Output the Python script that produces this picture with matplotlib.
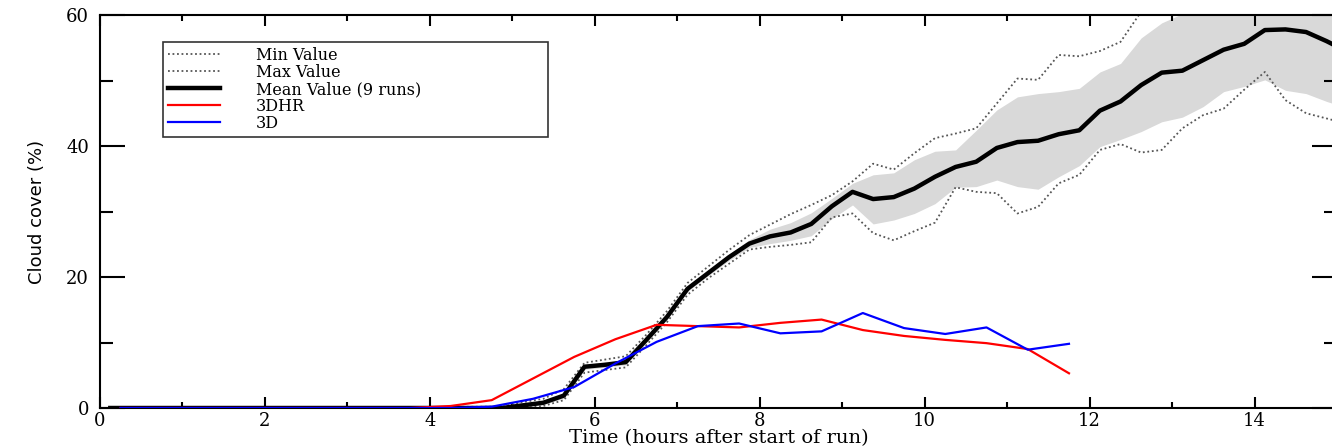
import matplotlib
matplotlib.use('Agg')
import matplotlib.pyplot as plt
from matplotlib.ticker import MultipleLocator

# ensemble statistics (9 runs), every 15 min
t_ens = [0.125, 4.875, 5.125, 5.375, 5.625, 5.875, 6.125, 6.375, 6.625, 6.875,
         7.125, 7.375, 7.625, 7.875, 8.125, 8.375, 8.625, 8.875, 9.125, 9.375,
         9.625, 9.875, 10.125, 10.375, 10.625, 10.875, 11.125, 11.375, 11.625, 11.875,
         12.125, 12.375, 12.625, 12.875, 13.125, 13.375, 13.625, 13.875, 14.125, 14.375,
         14.625, 14.875, 15.0]
mean_v = [0, 0, 0.4, 0.8, 1.9, 6.3, 6.6, 7.0, 10.4, 13.9,
          18.2, 20.6, 23.0, 25.1, 26.2, 26.8, 28.1, 30.8, 33.0, 31.9,
          32.2, 33.5, 35.3, 36.8, 37.6, 39.7, 40.6, 40.8, 41.8, 42.4,
          45.4, 46.8, 49.3, 51.2, 51.5, 53.1, 54.7, 55.6, 57.7, 57.8,
          57.4, 56.0, 55.2]
band_lo = [0, 0, 0.2, 0.5, 1.5, 5.9, 6.2, 6.6, 10.0, 13.5,
           17.8, 20.2, 22.5, 24.5, 25.1, 25.6, 26.3, 28.9, 31.0, 28.1,
           28.7, 29.7, 31.2, 33.7, 33.8, 34.8, 33.8, 33.4, 35.3, 37.0,
           39.9, 41.0, 42.2, 43.7, 44.4, 46.0, 48.3, 49.1, 50.1, 48.5,
           48.0, 46.8, 46.3]
band_hi = [0, 0.1, 0.6, 1.1, 2.3, 6.7, 7.0, 7.4, 10.8, 14.3,
           18.6, 21.0, 23.5, 25.7, 27.3, 28.3, 29.8, 32.0, 34.3, 35.6,
           35.9, 37.9, 39.2, 39.4, 42.4, 45.5, 47.5, 48.0, 48.3, 48.8,
           51.3, 52.6, 56.5, 58.8, 60.2, 61.5, 62.5, 63.5, 64.5, 64.0,
           63.5, 63.0, 62.8]
min_v = [0, 0, 0.0, 0.3, 1.2, 5.4, 5.8, 6.2, 9.6, 13.1,
         17.3, 19.8, 22.0, 24.2, 24.6, 24.9, 25.3, 29.1, 29.7, 26.7,
         25.6, 27.0, 28.3, 33.7, 33.0, 32.8, 29.7, 30.7, 34.3, 35.6,
         39.4, 40.3, 39.0, 39.4, 42.7, 44.7, 45.7, 48.6, 51.3, 47.0,
         45.0, 44.2, 43.8]
max_v = [0, 0.2, 0.9, 1.4, 2.9, 6.9, 7.4, 7.9, 11.2, 14.8,
         19.1, 21.6, 24.1, 26.4, 28.0, 29.6, 31.0, 32.5, 34.6, 37.3,
         36.4, 38.9, 41.2, 41.9, 42.7, 46.5, 50.3, 50.1, 53.9, 53.7,
         54.5, 55.9, 60.5, 62.5, 64.0, 65.0, 66.0, 67.0, 68.0, 68.5,
         68.5, 68.0, 67.8]

# single runs, every 30 min
t_run = [0.25, 0.75, 1.25, 1.75, 2.25, 2.75, 3.25, 3.75, 4.25, 4.75, 5.25, 5.75,
         6.25, 6.75, 7.25, 7.75, 8.25, 8.75, 9.25, 9.75, 10.25, 10.75, 11.25, 11.75]
hr_3d = [0, 0, 0, 0, 0, 0, 0, 0, 0.3, 1.2, 4.5, 7.8,
         10.5, 12.7, 12.5, 12.3, 13.0, 13.5, 11.9, 11.0, 10.4, 9.9, 9.0, 5.3]
run_3d = [0, 0, 0, 0, 0, 0, 0, 0, 0, 0.2, 1.4, 3.2,
          6.8, 10.1, 12.5, 12.9, 11.4, 11.7, 14.5, 12.2, 11.3, 12.3, 8.9, 9.8]

plt.rcParams['font.family'] = 'DejaVu Serif'

fig = plt.figure(figsize=(13.32, 4.47), dpi=100)
ax = fig.add_axes([100 / 1332, 39 / 447, 1237 / 1332, 393 / 447])

ax.fill_between(t_ens, band_lo, band_hi, color='#d9d9d9', lw=0, zorder=1)
ax.plot(t_ens, min_v, color='#555555', lw=1.3, ls=(0, (1, 1.5)), label='Min Value', zorder=2)
ax.plot(t_ens, max_v, color='#555555', lw=1.3, ls=(0, (1, 1.5)), label='Max Value', zorder=2)
ax.plot(t_ens, mean_v, color='black', lw=3.2, label='Mean Value (9 runs)', zorder=3)
ax.plot(t_run, hr_3d, color='#ff0000', lw=1.6, label='3DHR', zorder=4)
ax.plot(t_run, run_3d, color='#0000ff', lw=1.6, label='3D', zorder=5)

ax.set_xlim(0, 15)
ax.set_ylim(0, 60)
ax.xaxis.set_major_locator(MultipleLocator(2))
ax.xaxis.set_minor_locator(MultipleLocator(1))
ax.yaxis.set_major_locator(MultipleLocator(20))
ax.yaxis.set_minor_locator(MultipleLocator(10))
ax.tick_params(which='both', direction='in', top=True, right=True, width=1.5, labelsize=13)
ax.tick_params(axis='x', which='major', length=8, pad=3)
ax.tick_params(axis='x', which='minor', length=4.5)
ax.tick_params(axis='y', which='major', length=18, pad=8)
ax.tick_params(axis='y', which='minor', length=9.5)
for s in ax.spines.values():
    s.set_linewidth(1.5)

ax.set_xlabel('Time (hours after start of run)', fontsize=14, labelpad=-1)
ax.set_ylabel('Cloud cover (%)', fontsize=13, labelpad=14, family='DejaVu Sans')

leg = ax.legend(loc='upper left', bbox_to_anchor=(0.0509, 0.70, 0.311, 0.231),
                mode='expand', borderaxespad=0, fontsize=11.5, labelspacing=0.0,
                handlelength=3.3, handletextpad=2.2, borderpad=0.3,
                frameon=True, fancybox=False, edgecolor='black')
leg.get_frame().set_linewidth(1.2)

fig.savefig('out.png', dpi=100)
